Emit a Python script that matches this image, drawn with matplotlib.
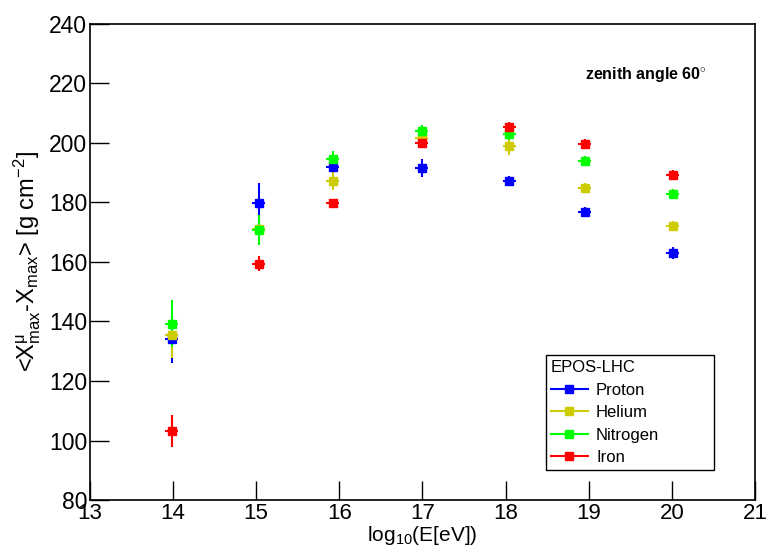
import numpy as np
import matplotlib.pyplot as plt
from matplotlib.lines import Line2D

plt.rcParams['font.family'] = ['Liberation Sans', 'DejaVu Sans']
plt.rcParams['mathtext.fontset'] = 'custom'
plt.rcParams['mathtext.rm'] = 'Liberation Sans'
plt.rcParams['mathtext.it'] = 'Liberation Sans'

# log10(E/eV) of the simulated energies
energy = [13.985, 15.03, 15.92, 16.99, 18.045, 18.95, 20.01]

proton = [134.0, 179.9, 191.9, 191.6, 187.2, 176.8, 163.1]
proton_err = [8.0, 6.5, 2.0, 3.0, 1.5, 1.5, 2.0]
helium = [135.6, 171.0, 187.2, 201.7, 199.0, 184.9, 172.1]
helium_err = [8.0, 4.0, 3.0, 2.0, 3.0, 1.5, 1.5]
nitrogen = [139.3, 170.8, 194.6, 204.0, 203.0, 194.0, 182.9]
nitrogen_err = [8.0, 5.0, 2.5, 2.0, 2.0, 1.5, 1.5]
iron = [103.2, 159.4, 179.8, 200.0, 205.4, 199.7, 189.3]
iron_err = [5.5, 2.5, 1.5, 1.5, 1.5, 1.5, 1.5]

series = [
    ('Proton', proton, proton_err, '#0000ff'),
    ('Helium', helium, helium_err, '#cccc00'),
    ('Nitrogen', nitrogen, nitrogen_err, '#00ff00'),
    ('Iron', iron, iron_err, '#ff0000'),
]

fig = plt.figure(figsize=(7.68, 5.52), dpi=100)
ax = fig.add_axes([0.117, 0.094, 0.866, 0.863])

handles = []
for name, vals, errs, col in series:
    ax.errorbar(energy, vals, yerr=errs, xerr=0.08, fmt='s', color=col,
                markersize=6, elinewidth=1.5, capsize=0)
    handles.append(Line2D([], [], color=col, marker='s', markersize=6,
                          linewidth=1.5, label=name))

ax.set_xlim(13, 21)
ax.set_ylim(80, 240)
ax.set_xticks(np.arange(13, 22, 1))
ax.set_yticks(np.arange(80, 241, 20))
ax.tick_params(direction='in', length=14, width=1, pad=2)
ax.tick_params(axis='y', labelsize=16.5)
ax.tick_params(axis='x', labelsize=16)
for sp in ax.spines.values():
    sp.set_linewidth(1.2)

ax.set_xlabel(r'log$_{10}$(E[eV])', fontsize=15, labelpad=0)
ax.set_ylabel(r'<X$_{\rm max}^{\mu}$-X$_{\rm max}$> [g cm$^{-2}$]', fontsize=17, labelpad=4)

ax.text(0.744, 0.893, 'zenith angle 60$^{\\circ}$', transform=ax.transAxes,
        fontsize=11.5, fontweight='bold', va='center')

leg = ax.legend(handles=handles, loc='lower left',
                bbox_to_anchor=(0.686, 0.063, 0.252, 0.248),
                mode='expand', title='EPOS-LHC', fontsize=12, title_fontsize=12,
                fancybox=False, framealpha=1, edgecolor='black',
                handlelength=2.2, handletextpad=0.5, borderaxespad=0,
                labelspacing=0.45, borderpad=0.3)
leg._legend_box.align = 'left'
leg.get_frame().set_linewidth(1.0)

fig.savefig('out.png', dpi=100)
